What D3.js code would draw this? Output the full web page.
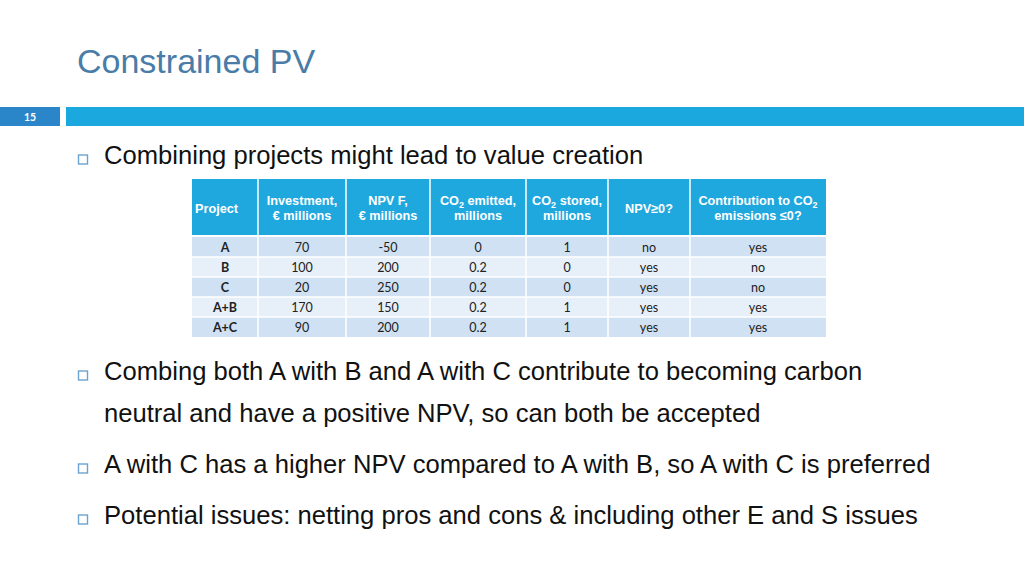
<!DOCTYPE html>
<html><head><meta charset="utf-8">
<script src="https://cdn.jsdelivr.net/npm/d3@7"></script>
<style>body{margin:0;background:#fff}svg{display:block}</style>
</head><body>
<svg id="c" width="1024" height="576"></svg>
<script>
const projects = ["A","B","C","A+B","A+C"];
const investment = ["70","100","20","170","90"];
const npvF = ["-50","200","250","150","200"];
const co2Emitted = ["0","0.2","0.2","0.2","0.2"];
const co2Stored = ["1","0","0","1","1"];
const npvPositive = ["no","yes","yes","yes","yes"];
const contribution = ["yes","no","no","yes","yes"];
const headers = [
  [["Project"]],
  [["Investment,"],["€ millions"]],
  [["NPV F,"],["€ millions"]],
  [["CO","2"," emitted,"],["millions"]],
  [["CO","2"," stored,"],["millions"]],
  [["NPV≥0?"]],
  [["Contribution to CO","2"],["emissions ≤0?"]]
];
const bullets = [
  ["Combining projects might lead to value creation"],
  ["Combing both A with B and A with C contribute to becoming carbon","neutral and have a positive NPV, so can both be accepted"],
  ["A with C has a higher NPV compared to A with B, so A with C is preferred"],
  ["Potential issues: netting pros and cons & including other E and S issues"]
];
const slideNumber = "15";
const title = "Constrained PV";

const svg = d3.select("#c");
const font = "'Liberation Sans', Arial, sans-serif";

// header bar
svg.append("rect").attr("x",0).attr("y",107).attr("width",60).attr("height",19).attr("fill","#2b86c9");
svg.append("rect").attr("x",66).attr("y",107).attr("width",958).attr("height",19).attr("fill","#1ba8de");
svg.append("text").attr("x",30).attr("y",120.5).attr("text-anchor","middle")
  .attr("font-family","Lato, sans-serif").attr("font-weight","bold").attr("font-size",10.5)
  .attr("fill","#fff").text(slideNumber);

svg.append("text").attr("x",77).attr("y",73).attr("font-family",font).attr("font-size",34)
  .attr("fill","#4a7ca8").text(title);

// bullets
const bulletY = [164, 380, 473, 524];
const lineH = 42;
bullets.forEach((lines,i)=>{
  svg.append("rect").attr("x",78.5).attr("y",bulletY[i]-9).attr("width",9).attr("height",9)
    .attr("fill","none").attr("stroke","#6aa3d2").attr("stroke-width",1.4);
  lines.forEach((l,j)=>{
    svg.append("text").attr("x",104).attr("y",bulletY[i]+j*lineH)
      .attr("font-family",font).attr("font-size",25.6).attr("fill","#111").text(l);
  });
});

// table
const colEdges = [192,258,346,430,526,608,690,826];
const hdrTop = 179, hdrBot = 235, bodyTop = 237, bodyBot = 337;
const y = d3.scaleBand().domain(projects).range([bodyTop, bodyBot]);
const cols = [projects, investment, npvF, co2Emitted, co2Stored, npvPositive, contribution];

svg.append("rect").attr("x",colEdges[0]).attr("y",hdrTop).attr("width",colEdges[7]-colEdges[0])
  .attr("height",hdrBot-hdrTop).attr("fill","#1fa8de");
const hg = svg.append("g");
headers.forEach((h,ci)=>{
  const x0 = colEdges[ci], x1 = colEdges[ci+1];
  const anchor = ci===0 ? "start" : "middle";
  const tx = ci===0 ? x0+3 : (x0+x1)/2;
  const ys = h.length===1 ? [212.5] : [205, 220];
  h.forEach((line,li)=>{
    const t = hg.append("text").attr("x",tx).attr("y",ys[li]).attr("text-anchor",anchor)
      .attr("font-family",font).attr("font-weight","bold").attr("font-size",12.7).attr("fill","#fff");
    if(line.length===1){ t.text(line[0]); }
    else {
      t.append("tspan").text(line[0]);
      t.append("tspan").attr("font-size",9).attr("dy",3).text(line[1]);
      if(line[2]!==undefined) t.append("tspan").attr("dy",-3).text(line[2]);
    }
  });
});
// header separators
for(let i=1;i<7;i++){
  svg.append("line").attr("x1",colEdges[i]).attr("x2",colEdges[i]).attr("y1",hdrTop).attr("y2",hdrBot)
    .attr("stroke","#fff").attr("stroke-width",1.5);
}
// body rows
svg.selectAll("rect.row").data(projects).join("rect").attr("class","row")
  .attr("x",colEdges[0]).attr("y",d=>y(d)).attr("width",colEdges[7]-colEdges[0]).attr("height",y.bandwidth())
  .attr("fill",(d,i)=> i%2===0 ? "#cfe1f2" : "#e7eff8");
for(let i=1;i<7;i++){
  svg.append("line").attr("x1",colEdges[i]).attr("x2",colEdges[i]).attr("y1",bodyTop).attr("y2",bodyBot)
    .attr("stroke","#fff").attr("stroke-width",1.5);
}
projects.forEach((p,ri)=>{
  if(ri>0) svg.append("line").attr("x1",colEdges[0]).attr("x2",colEdges[7]).attr("y1",y(p)).attr("y2",y(p))
    .attr("stroke","#fff").attr("stroke-width",1.5);
});
cols.forEach((col,ci)=>{
  const cx = (colEdges[ci]+colEdges[ci+1])/2;
  svg.selectAll(null).data(col).join("text")
    .attr("x",cx).attr("y",(d,i)=>y(projects[i])+y.bandwidth()/2+4.5)
    .attr("text-anchor","middle").attr("font-family","Lato, 'Open Sans', sans-serif")
    .attr("font-size",12.5).attr("font-weight",ci===0?"bold":"normal").attr("fill","#222").text(d=>d);
});
</script>
</body></html>
